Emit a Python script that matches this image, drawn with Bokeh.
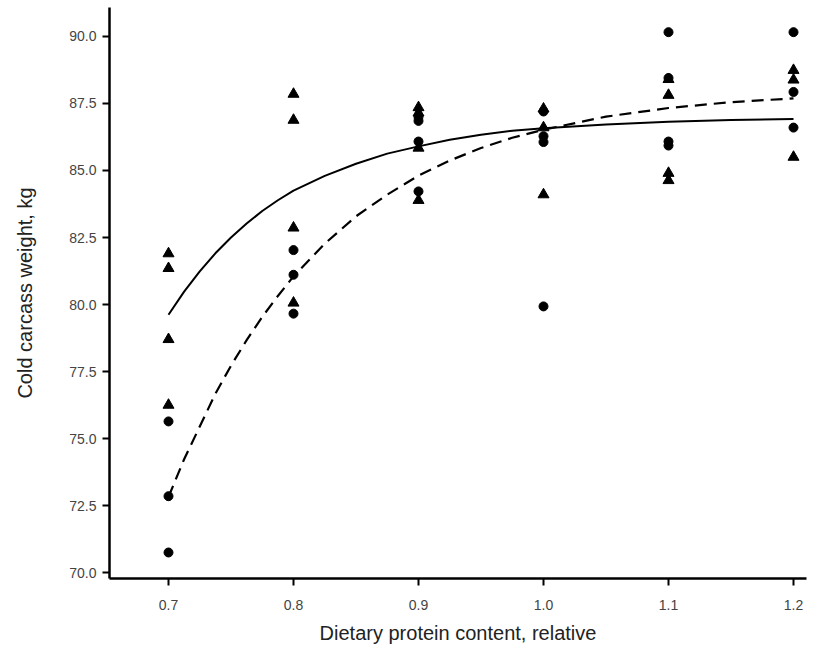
from bokeh.plotting import figure
from bokeh.models import FixedTicker, PrintfTickFormatter, Range1d
from bokeh.embed import file_html
from bokeh.resources import INLINE

# Triangle group observations
tri_x = [0.7, 0.7, 0.7, 0.7,
         0.8, 0.8, 0.8, 0.8,
         0.9, 0.9, 0.9, 0.9,
         1.0, 1.0, 1.0,
         1.1, 1.1, 1.1, 1.1,
         1.2, 1.2, 1.2]
tri_y = [81.9, 81.35, 78.7, 76.25,
         87.85, 86.88, 82.86, 80.06,
         87.35, 87.15, 85.84, 83.89,
         87.3, 86.6, 84.1,
         88.4, 87.81, 84.9, 84.63,
         88.74, 88.38, 85.5]

# Circle group observations
cir_x = [0.7, 0.7, 0.7,
         0.8, 0.8, 0.8,
         0.9, 0.9, 0.9, 0.9,
         1.0, 1.0, 1.0, 1.0,
         1.1, 1.1, 1.1, 1.1,
         1.2, 1.2, 1.2]
cir_y = [75.64, 72.85, 70.75,
         82.03, 81.11, 79.66,
         87.0, 86.85, 86.08, 84.22,
         87.2, 86.28, 86.06, 79.93,
         90.16, 88.45, 86.08, 85.93,
         90.16, 87.93, 86.6]

# Fitted curves
fit_x = [0.7000, 0.7125, 0.7250, 0.7375, 0.7500, 0.7625, 0.7750, 0.7875,
         0.800, 0.825, 0.850, 0.875, 0.900, 0.925, 0.950, 0.975, 1.000,
         1.050, 1.100, 1.150, 1.200]
solid_y = [79.62, 80.48, 81.24, 81.91, 82.50, 83.02, 83.49, 83.89,
           84.25, 84.80, 85.25, 85.63, 85.90, 86.15, 86.33, 86.48, 86.58,
           86.72, 86.82, 86.88, 86.92]
dashed_y = [72.82, 74.23, 75.45, 76.67, 77.72, 78.67, 79.54, 80.32,
            81.05, 82.27, 83.29, 84.10, 84.81, 85.37, 85.84, 86.22, 86.52,
            87.01, 87.33, 87.55, 87.69]

x_ticks = [0.7, 0.8, 0.9, 1.0, 1.1, 1.2]
y_ticks = [70.0, 72.5, 75.0, 77.5, 80.0, 82.5, 85.0, 87.5, 90.0]

p = figure(width=812, height=646, output_backend="svg", toolbar_location=None,
           x_range=Range1d(0.6528, 1.2104), y_range=Range1d(69.78, 91.08),
           min_border_left=109, min_border_right=6, min_border_top=7,
           min_border_bottom=65)
p.outline_line_color = None
p.grid.visible = False
p.background_fill_color = "white"
p.border_fill_color = "white"

p.line(fit_x, solid_y, line_color="black", line_width=2)
p.line(fit_x, dashed_y, line_color="black", line_width=2.2, line_dash="12 7")

p.scatter(tri_x, tri_y, marker="triangle", size=11, color="black")
p.scatter(cir_x, cir_y, marker="circle", size=9, color="black")

for ax in (p.xaxis[0], p.yaxis[0]):
    ax.axis_line_width = 2.5
    ax.axis_line_color = "black"
    ax.major_tick_line_width = 2
    ax.major_tick_line_color = "black"
    ax.major_tick_out = 7
    ax.major_tick_in = 0
    ax.minor_tick_line_color = None
    ax.major_label_text_font = "Liberation Sans"
    ax.major_label_text_font_size = "14px"
    ax.major_label_text_color = "#444444"
    ax.axis_label_text_font = "Liberation Sans"
    ax.axis_label_text_font_size = "20px"
    ax.axis_label_text_font_style = "normal"
    ax.axis_label_text_color = "#222222"
    ax.formatter = PrintfTickFormatter(format="%.1f")

p.xaxis[0].ticker = FixedTicker(ticks=x_ticks)
p.yaxis[0].ticker = FixedTicker(ticks=y_ticks)
p.xaxis[0].axis_label = "Dietary protein content, relative"
p.yaxis[0].axis_label = "Cold carcass weight, kg"
p.xaxis[0].major_label_standoff = 14
p.xaxis[0].axis_label_standoff = 9
p.yaxis[0].major_label_standoff = 6
p.yaxis[0].axis_label_standoff = 30

open("out.html", "w").write(file_html(p, INLINE))
